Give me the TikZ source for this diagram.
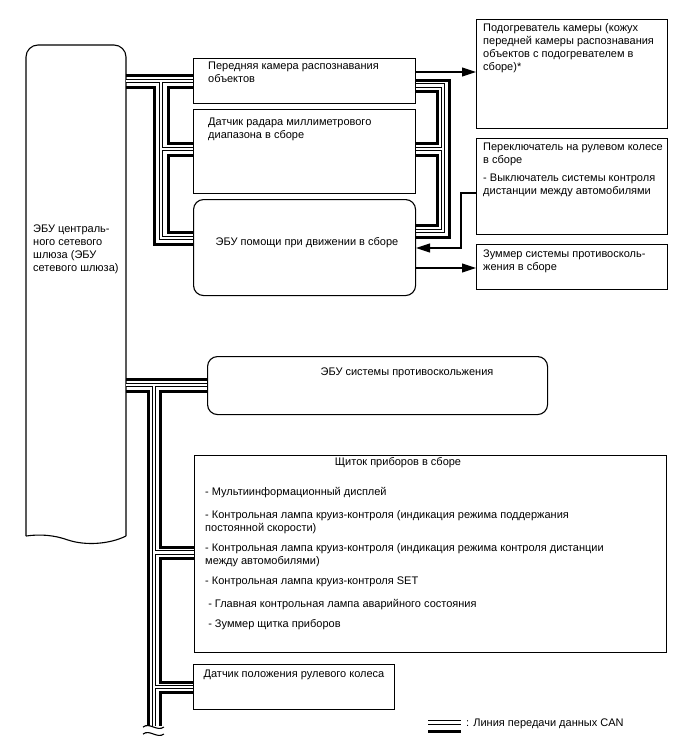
\documentclass[tikz,border=0pt]{standalone}
\usepackage{fontspec}
\setmainfont{Liberation Sans}
\usetikzlibrary{calc, arrows.meta, positioning}

\begin{document}
\begin{tikzpicture}[x=1pt, y=-1pt, >={Triangle[length=14pt, width=9pt]},
    box/.style={draw, line width=1.1pt, anchor=north west, inner sep=0pt},
    rbox/.style={box, rounded corners=10pt},
    txt/.style={inner sep=0pt, align=left, font=\fontsize{11}{13}\selectfont},
    canh/.style={line width=3pt},
    canl/.style={double, line width=1.2pt, double distance=2.3pt},
    sig/.style={->, line width=1.1pt}]

    \useasboundingbox (0,0) rectangle (688,755);

    % ==========================================
    % 1. CENTRAL GATEWAY ECU (broken at the bottom)
    % ==========================================
    \coordinate (gwr) at (126,45);
    \draw[line width=1.1pt, rounded corners=12pt] (126,536) -- (126,45) -- (26,45) -- (26,536);
    \draw[line width=1.1pt] (26,536) .. controls (40,534) and (54,535) .. (68,540)
        .. controls (86,546) and (110,544) .. (126,536);
    \node[txt, anchor=north west] (gw) at (33,225) {ЭБУ централь-\\ного сетевого\\шлюза (ЭБУ\\сетевого шлюза)};

    % ==========================================
    % 2. UNITS
    % ==========================================
    \node[box, minimum width=222pt, minimum height=45pt] (cam) at (193,58) {};
    \node[txt, anchor=north west] (camt) at ([shift={(15,4)}]cam.north west) {Передняя камера распознавания\\объектов};

    \node[box, minimum width=222pt, minimum height=84pt] (rad) at (193,109) {};
    \node[txt, anchor=north west] (radt) at ([shift={(15,9)}]rad.north west) {Датчик радара миллиметрового\\диапазона в сборе};

    \node[rbox, minimum width=222pt, minimum height=96pt] (drv) at (193,199) {};
    \node[txt] (drvt) at (307,243) {ЭБУ помощи при движении в сборе};

    \node[box, minimum width=191pt, minimum height=109pt] (heat) at (476,19) {};
    \node[txt, anchor=north west] (heatt) at ([shift={(7,4)}]heat.north west) {Подогреватель камеры (кожух\\передней камеры распознавания\\объектов с подогревателем в\\сборе)*};

    \node[box, minimum width=191pt, minimum height=96pt] (sw) at (476,138) {};
    \node[txt, anchor=north west] (swt) at ([shift={(7,5)}]sw.north west) {Переключатель на рулевом колесе\\в сборе\\[5pt]- Выключатель системы контроля\\дистанции между автомобилями};

    \node[box, minimum width=191pt, minimum height=45pt] (buz) at (476,244) {};
    \node[txt, anchor=north west] (buzt) at ([shift={(7,6)}]buz.north west) {Зуммер системы противосколь-\\жения в сборе};

    \node[rbox, minimum width=340pt, minimum height=58pt] (abs) at (207,356) {};
    \node[txt] (abst) at (407,373) {ЭБУ системы противоскольжения};

    \node[box, minimum width=472pt, minimum height=197pt] (clu) at (194,455) {};
    \node[txt] (clut) at (398,463) {Щиток приборов в сборе};
    \node[txt, anchor=north west] (clui) at ([shift={(11,32)}]clu.north west) {- Мультиинформационный дисплей\\[10pt]
        - Контрольная лампа круиз-контроля (индикация режима поддержания\\постоянной скорости)\\[7pt]
        - Контрольная лампа круиз-контроля (индикация режима контроля дистанции\\между автомобилями)\\[7pt]
        - Контрольная лампа круиз-контроля SET\\[10pt]
        \ - Главная контрольная лампа аварийного состояния\\[7pt]
        \ - Зуммер щитка приборов};

    \node[box, minimum width=201pt, minimum height=45pt] (str) at (193,664) {};
    \node[txt] (strt) at (294,675) {Датчик положения рулевого колеса};

    % ==========================================
    % 3. UPPER CAN BUS
    % ==========================================
    % left side
    \draw[canh] (gwr |- 0,75) -- (cam.west |- 0,75);
    \draw[canh] (gwr |- 0,87) -- (154,87) -- (154,244) -- (drv.west |- 0,244);
    \draw[canh] (cam.west |- 0,87) -- (168,87) -- (168,143) -- (rad.west |- 0,143);
    \draw[canh] (rad.west |- 0,155) -- (168,155) -- (168,232) -- (drv.west |- 0,232);
    \draw[canl] (gwr |- 0,81) -- (cam.west |- 0,81)
        (161,81) -- (161,238) -- (drv.west |- 0,238)
        (161,149) -- (rad.west |- 0,149);
    % right side
    \draw[canh] (cam.east |- 0,80) -- (449,80) -- (449,237) -- (drv.east |- 0,237);
    \draw[canh] (cam.east |- 0,91) -- (437,91) -- (437,143) -- (rad.east |- 0,143);
    \draw[canh] (rad.east |- 0,155) -- (437,155) -- (437,225) -- (drv.east |- 0,225);
    \draw[canl] (cam.east |- 0,85.5) -- (443,85.5) -- (443,231) -- (drv.east |- 0,231)
        (443,149) -- (rad.east |- 0,149);

    % ==========================================
    % 4. LOWER CAN BUS
    % ==========================================
    \draw[canh] (gwr |- 0,379) -- (abs.west |- 0,379);
    \draw[canh] (gwr |- 0,391) -- (148,391) -- (148,726);
    \draw[canh] (abs.west |- 0,391) -- (160,391) -- (160,547) -- (clu.west |- 0,547);
    \draw[canh] (clu.west |- 0,558) -- (160,558) -- (160,682) -- (str.west |- 0,682);
    \draw[canh] (str.west |- 0,692) -- (160,692) -- (160,726);
    \draw[canl] (gwr |- 0,385) -- (abs.west |- 0,385)
        (154,385) -- (154,726)
        (154,552.5) -- (clu.west |- 0,552.5)
        (154,687) -- (str.west |- 0,687);

    % break mark
    \draw[line width=1.1pt] (143,727) .. controls (150,722) and (157,732) .. (164,727);
    \draw[line width=1.1pt] (143,734) .. controls (150,729) and (157,739) .. (164,734);

    % ==========================================
    % 5. SIGNAL LINES
    % ==========================================
    \draw[sig] (cam.east |- 0,72) -- (heat.west |- 0,72);
    \draw[sig] (sw.west |- 0,193) -- (461,193) -- (461,248) -- (drv.east |- 0,248);
    \draw[sig] (drv.east |- 0,268) -- (buz.west |- 0,268);

    % ==========================================
    % 6. LEGEND
    % ==========================================
    \draw[canl] (428,722.5) -- (461,722.5);
    \draw[canh] (428,731) -- (461,731);
    \node[txt, anchor=west] (leg) at (466,724) {: Линия передачи данных CAN};

\end{tikzpicture}
\end{document}
